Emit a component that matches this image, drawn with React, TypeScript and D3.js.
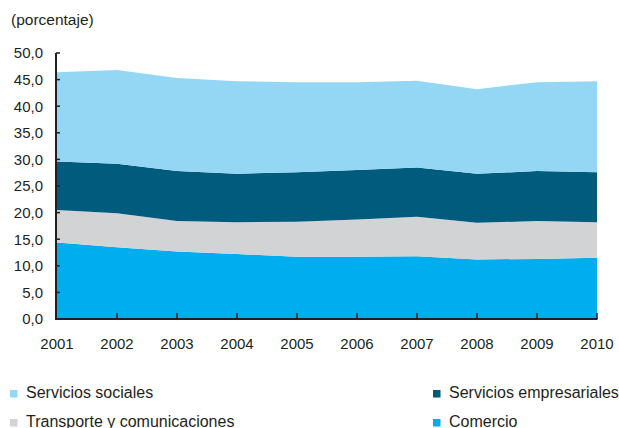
import React from "react";
import * as d3 from "d3";

const years = [2001, 2002, 2003, 2004, 2005, 2006, 2007, 2008, 2009, 2010];
const comercio = [14.4, 13.5, 12.7, 12.2, 11.7, 11.7, 11.8, 11.2, 11.3, 11.5];
const transporte = [6.1, 6.4, 5.7, 6.0, 6.6, 7.0, 7.4, 6.9, 7.1, 6.7];
const empresariales = [9.1, 9.3, 9.4, 9.1, 9.3, 9.3, 9.3, 9.2, 9.4, 9.4];
const sociales = [16.8, 17.6, 17.5, 17.4, 16.9, 16.5, 16.3, 15.9, 16.7, 17.1];
const yTicks = [0, 5, 10, 15, 20, 25, 30, 35, 40, 45, 50];

const seriesKeys = ["comercio", "transporte", "empresariales", "sociales"];
const seriesNames: Record<string, string> = {
  comercio: "Comercio",
  transporte: "Transporte y comunicaciones",
  empresariales: "Servicios empresariales",
  sociales: "Servicios sociales",
};
const colors: Record<string, string> = {
  comercio: "#00AEEF",
  transporte: "#D1D3D4",
  empresariales: "#005B7D",
  sociales: "#93D7F5",
};

const W = 619;
const H = 428;
const FONT = "'Liberation Sans', Arial, Helvetica, sans-serif";
const TEXT = "#231F20";

export default function App() {
  const rows = years.map((y, i) => ({
    year: y,
    comercio: comercio[i],
    transporte: transporte[i],
    empresariales: empresariales[i],
    sociales: sociales[i],
  }));
  const stack = d3.stack<any>().keys(seriesKeys);
  const stacked = stack(rows);

  const x = d3.scaleLinear().domain([2001, 2010]).range([57, 597]);
  const y = d3.scaleLinear().domain([0, 50]).range([319, 53]);

  const area = d3
    .area<any>()
    .x((d) => x(d.data.year))
    .y0((d) => y(d[0]))
    .y1((d) => y(d[1]))
    .curve(d3.curveLinear);

  const legendItems = [
    { key: "sociales", col: 0, row: 0 },
    { key: "empresariales", col: 1, row: 0 },
    { key: "transporte", col: 0, row: 1 },
    { key: "comercio", col: 1, row: 1 },
  ];
  const colX = [10, 433];
  const rowY = [398, 427];

  return (
    <svg
      width={W}
      height={H}
      style={{ position: "absolute", left: 0, top: 0, background: "#fff" }}
      fontFamily={FONT}
    >
      <text x={11} y={25} fontSize={15.5} fill={TEXT}>
        (porcentaje)
      </text>
      {stacked.map((s) => (
        <path key={s.key} d={area(s) || ""} fill={colors[s.key]} />
      ))}
      {/* y axis */}
      <line x1={56} x2={56} y1={y(50)} y2={y(0) + 1} stroke={TEXT} strokeWidth={2} />
      {yTicks.map((t) => (
        <g key={t}>
          <line x1={56} x2={60} y1={y(t)} y2={y(t)} stroke={TEXT} strokeWidth={1.5} />
          <text
            x={43}
            y={y(t)}
            dy="0.36em"
            textAnchor="end"
            fontSize={15}
            fill={TEXT}
          >
            {d3.format(".1f")(t).replace(".", ",")}
          </text>
        </g>
      ))}
      {/* x axis */}
      <line x1={55} x2={x(2010) + 0.5} y1={y(0)} y2={y(0)} stroke={TEXT} strokeWidth={2} />
      {years.map((yr) => (
        <g key={yr}>
          {yr > 2001 && (
            <line
              x1={x(yr)}
              x2={x(yr)}
              y1={y(0)}
              y2={y(0) - 6}
              stroke={TEXT}
              strokeWidth={1.5}
            />
          )}
          <text x={x(yr)} y={348.5} textAnchor="middle" fontSize={15} fill={TEXT}>
            {yr}
          </text>
        </g>
      ))}
      {/* legend */}
      {legendItems.map((it) => (
        <g key={it.key}>
          <rect
            x={colX[it.col]}
            y={rowY[it.row] - 8}
            width={7.5}
            height={7.5}
            fill={colors[it.key]}
          />
          <text
            x={colX[it.col] + 16}
            y={rowY[it.row]}
            fontSize={16}
            fill={TEXT}
          >
            {seriesNames[it.key]}
          </text>
        </g>
      ))}
    </svg>
  );
}
